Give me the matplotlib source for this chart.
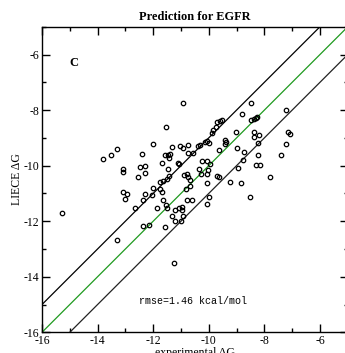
import matplotlib
matplotlib.use('agg')
import matplotlib.pyplot as plt
from matplotlib.ticker import MultipleLocator

plt.rcParams['axes.unicode_minus'] = False

# experimental dG vs LIECE predicted dG (kcal/mol)
exp_dg = [-15.29, -13.81, -13.51, -13.30, -13.09, -13.09, -12.47, -12.30, -12.29, -12.55,
          -12.41, -12.01, -11.54, -10.92, -11.68, -11.58, -11.46, -11.38, -11.42, -11.32,
          -11.05, -10.91, -10.74, -11.11, -11.06, -11.46, -10.73, -10.57, -10.40, -10.31,
          -10.14, -10.08, -10.01, -10.26, -10.06, -9.97, -10.36, -10.04, -10.28, -10.07,
          -10.90, -10.80, -10.75, -10.69, -9.90, -9.86, -9.75, -9.72, -9.60, -9.52,
          -9.43, -9.38, -9.41, -9.64, -9.72, -9.62, -9.01, -8.80, -8.49, -7.24,
          -8.47, -8.38, -8.30, -8.25, -8.38, -8.37, -8.19, -7.16, -7.09, -8.23,
          -7.22, -8.98, -8.73, -8.23, -7.39, -8.78, -8.96, -8.30, -8.17, -9.25,
          -8.83, -7.81, -10.05, -10.00, -10.06, -8.52, -13.08, -12.95, -13.01, -12.31,
          -12.38, -12.65, -12.35, -12.16, -13.31, -12.02, -12.06, -11.75, -11.66, -11.50,
          -11.44, -11.74, -11.69, -11.63, -11.87, -11.55, -11.51, -11.57, -11.25, -11.22,
          -11.08, -10.95, -10.97, -11.32, -10.94, -11.23, -10.99, -10.82, -10.66, -10.78,
          -10.61]
liece_dg = [-11.71, -9.77, -9.60, -9.40, -10.12, -10.23, -10.05, -10.00, -10.28, -10.41,
            -9.59, -9.21, -8.61, -7.73, -9.89, -9.62, -9.62, -9.59, -9.72, -9.34,
            -9.28, -9.37, -9.25, -9.90, -9.95, -10.13, -9.56, -9.54, -9.30, -9.24,
            -9.14, -9.11, -9.19, -9.82, -9.82, -9.95, -10.12, -10.15, -10.30, -10.29,
            -10.32, -10.31, -10.41, -10.50, -8.81, -8.73, -8.61, -8.44, -8.39, -8.36,
            -9.06, -9.15, -9.21, -9.44, -10.36, -10.41, -8.79, -8.15, -7.73, -8.00,
            -8.34, -8.31, -8.27, -8.24, -8.78, -8.97, -8.89, -8.79, -8.87, -9.19,
            -9.23, -9.38, -9.51, -9.63, -9.63, -9.78, -10.09, -9.99, -9.99, -10.58,
            -10.61, -10.40, -10.61, -11.13, -11.37, -11.12, -10.95, -11.03, -11.21, -11.03,
            -11.25, -11.53, -12.17, -12.12, -12.67, -10.80, -11.04, -10.60, -10.57, -10.48,
            -10.39, -10.85, -10.94, -11.22, -11.52, -11.41, -11.52, -12.21, -13.50, -11.58,
            -11.51, -11.50, -11.60, -11.81, -11.81, -12.00, -12.00, -10.84, -10.75, -11.24,
            -11.22]

diag = [-16, -5]
offset = 1.0
rmse_label = 'rmse=1.46 kcal/mol'

serif = 'Liberation Serif'

fig = plt.figure(figsize=(3.45, 3.53), dpi=100)
# axes run a little past the right edge, like the original export
ax = fig.add_axes([0.1217, 0.0586, 0.8864, 0.8657])

ax.plot(diag, diag, color='#1f9a1f', lw=0.9, zorder=2)
ax.plot(diag, [d + offset for d in diag], color='k', lw=0.9, zorder=2)
ax.plot(diag, [d - offset for d in diag], color='#222222', lw=0.9, zorder=2)
ax.plot(exp_dg, liece_dg, 'o', ms=3.2, mfc='none', mec='k', mew=0.9, zorder=3)

ax.set_xlim(-16, -5)
ax.set_ylim(-16, -5)
ax.xaxis.set_major_locator(MultipleLocator(2))
ax.xaxis.set_minor_locator(MultipleLocator(1))
ax.yaxis.set_major_locator(MultipleLocator(2))
ax.yaxis.set_minor_locator(MultipleLocator(1))
ax.tick_params(which='both', direction='in', top=True, right=True, width=1.0)
ax.tick_params(which='major', length=6, pad=2, labelsize=8.5)
ax.tick_params(which='minor', length=3)
for lab in ax.get_xticklabels() + ax.get_yticklabels():
    lab.set_fontfamily(serif)
for sp in ax.spines.values():
    sp.set_linewidth(1.0)

ax.set_title('Prediction for EGFR', fontsize=8.9, fontweight='bold', family=serif, pad=5)
ax.set_xlabel('experimental ΔG', fontsize=8.5, family=serif, labelpad=0)
ax.set_ylabel('LIECE ΔG', fontsize=8.5, family=serif, labelpad=0)

ax.text(-14.85, -6.31, 'C', fontsize=9, fontweight='bold', family=serif,
        ha='center', va='center')
ax.text(-10.56, -14.89, rmse_label, fontsize=7.2, family='Liberation Mono',
        ha='center', va='center')

plt.savefig('out.png', dpi=100)
